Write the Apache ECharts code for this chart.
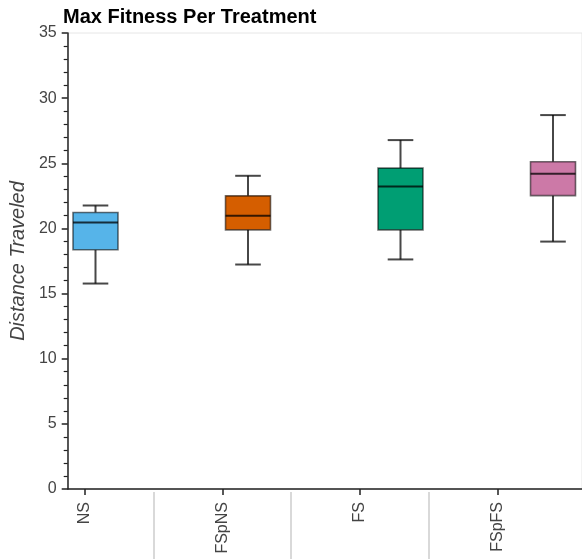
<!DOCTYPE html>
<html><head><meta charset="utf-8">
<script src="https://cdn.jsdelivr.net/npm/echarts@6/dist/echarts.min.js"></script>
<style>html,body{margin:0;padding:0;background:#fff}#c{width:582px;height:559px}</style>
</head><body><div id="c"></div>
<script>
const categories = ['NS', 'FSpNS', 'FS', 'FSpFS'];
const lowWhisker = [15.77, 17.23, 17.62, 18.99];
const q1 = [18.36, 19.89, 19.89, 22.52];
const medians = [20.45, 20.97, 23.22, 24.19];
const q3 = [21.22, 22.50, 24.63, 25.12];
const highWhisker = [21.76, 24.04, 26.78, 28.70];
const boxColors = ['#56B4E9', '#D55E00', '#009E73', '#CC79A7'];
const yMin = 0, yMax = 35, yStep = 5;

const FONT = "'Liberation Sans', Arial, Helvetica, sans-serif";
const chart = echarts.init(document.getElementById('c'), null, {renderer: 'canvas'});
const TOP = 33, BOTTOM = 70;

const boxData = categories.map((c, i) => [i, lowWhisker[i], q1[i], medians[i], q3[i], highWhisker[i]]);

function renderBox(params, api) {
  const i = api.value(0);
  const cx = api.coord([i, 0])[0];
  const yLow = api.coord([i, api.value(1)])[1];
  const yQ1 = api.coord([i, api.value(2)])[1];
  const yMed = api.coord([i, api.value(3)])[1];
  const yQ3 = api.coord([i, api.value(4)])[1];
  const yHigh = api.coord([i, api.value(5)])[1];
  const hw = 22.5, cw = 12.8;
  const wStyle = {stroke: 'rgba(0,0,0,0.72)', lineWidth: 2};
  return {
    type: 'group',
    children: [
      {type: 'line', shape: {x1: cx, y1: yQ1, x2: cx, y2: yLow}, style: wStyle},
      {type: 'line', shape: {x1: cx, y1: yQ3, x2: cx, y2: yHigh}, style: wStyle},
      {type: 'line', shape: {x1: cx - cw, y1: yLow, x2: cx + cw, y2: yLow}, style: wStyle},
      {type: 'line', shape: {x1: cx - cw, y1: yHigh, x2: cx + cw, y2: yHigh}, style: wStyle},
      {type: 'rect', shape: {x: cx - hw, y: yQ3, width: 2 * hw, height: yQ1 - yQ3},
        style: {fill: boxColors[params.dataIndex], stroke: 'rgba(0,0,0,0.55)', lineWidth: 1.6}},
      {type: 'line', shape: {x1: cx - hw, y1: yMed, x2: cx + hw, y2: yMed},
        style: {stroke: 'rgba(0,0,0,0.75)', lineWidth: 2}}
    ]
  };
}

const option = {
  animation: false,
  textStyle: {fontFamily: FONT},
  title: {
    text: 'Max Fitness Per Treatment', left: 63, top: 7, padding: 0,
    textStyle: {fontSize: 20, fontWeight: 'bold', color: '#000', fontFamily: FONT}
  },
  grid: [
    {left: 62, right: 0, top: TOP, bottom: BOTTOM, show: true, borderColor: '#e6e6e6', borderWidth: 1, backgroundColor: 'transparent'},
    {left: 16.3, right: 16, top: TOP, bottom: BOTTOM},
    {left: 16.3, right: 16, top: 492, bottom: 0},
    {left: 95.5, right: 29, top: TOP, bottom: BOTTOM}
  ],
  xAxis: [
    {gridIndex: 0, type: 'value', min: 0, max: 1,
      axisLine: {show: true, lineStyle: {color: '#222', width: 1.5}},
      axisTick: {show: false}, axisLabel: {show: false}, splitLine: {show: false}},
    {gridIndex: 1, type: 'category', data: categories, boundaryGap: true,
      axisLine: {show: false},
      axisTick: {show: true, alignWithLabel: true, length: 6, lineStyle: {color: '#222', width: 1.5}},
      axisLabel: {rotate: 90, interval: 0, fontSize: 16, color: '#444', margin: 13, fontFamily: FONT},
      splitLine: {show: false}},
    {gridIndex: 2, type: 'category', data: categories, boundaryGap: true,
      axisLine: {show: false}, axisTick: {show: false}, axisLabel: {show: false},
      splitLine: {show: true, interval: 0, showMinLine: false, showMaxLine: false,
        lineStyle: {color: '#d9d9d9', width: 2}}},
    {gridIndex: 3, type: 'category', data: categories, boundaryGap: false, show: false}
  ],
  yAxis: [
    {gridIndex: 0, type: 'value', min: yMin, max: yMax, interval: yStep,
      name: 'Distance Traveled', nameLocation: 'middle', nameGap: 37,
      nameTextStyle: {fontStyle: 'italic', fontSize: 20, color: '#444', fontFamily: FONT},
      axisLine: {show: true, lineStyle: {color: '#222', width: 1.5}},
      axisTick: {show: true, inside: false, length: 6, lineStyle: {color: '#222', width: 1.5}},
      minorTick: {show: true, splitNumber: 5, length: 4, lineStyle: {color: '#222', width: 1.2}},
      axisLabel: {fontSize: 16, color: '#444', margin: 11, fontFamily: FONT},
      splitLine: {show: false}},
    {gridIndex: 1, type: 'value', min: yMin, max: yMax, show: false},
    {gridIndex: 2, type: 'value', show: false},
    {gridIndex: 3, type: 'value', min: yMin, max: yMax, show: false}
  ],
  series: [{
    type: 'custom',
    xAxisIndex: 3, yAxisIndex: 3,
    data: boxData,
    encode: {x: 0, y: [1, 2, 3, 4, 5]},
    renderItem: renderBox
  }]
};
chart.setOption(option);
</script>
</body></html>
